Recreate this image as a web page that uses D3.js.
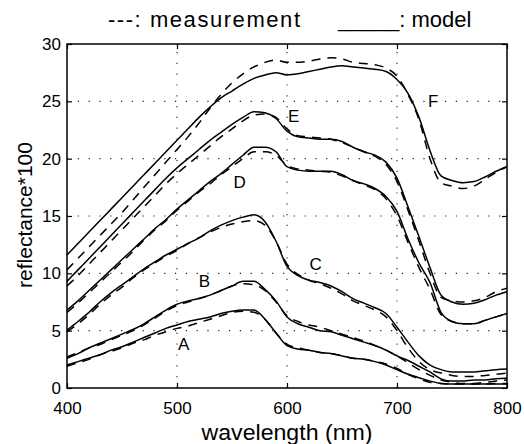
<!DOCTYPE html>
<html><head><meta charset="utf-8">
<script src="https://cdn.jsdelivr.net/npm/d3@7"></script>
<style>body{margin:0;background:#fff}svg{display:block;font-family:"Liberation Sans",Arial,Helvetica,sans-serif}</style>
</head><body><svg id="c" width="524" height="444"></svg>
<script>
const wavelengths = [400,410,420,430,440,450,460,470,480,490,500,510,520,530,540,550,560,570,580,590,600,610,620,630,640,650,660,670,680,690,700,710,720,730,740,750,760,770,780,790,800];

const F_model = [11.6,12.6,13.6,14.6,15.6,16.6,17.6,18.6,19.6,20.6,21.6,22.6,23.6,24.5,25.3,25.9,26.5,27.0,27.3,27.5,27.3,27.4,27.6,27.8,28.0,28.1,28.0,27.9,27.8,27.6,26.9,25.7,23.6,20.7,18.5,18.1,17.9,18.0,18.4,18.9,19.3];
const F_meas  = [10.3,11.3,12.3,13.3,14.3,15.3,16.4,17.5,18.6,19.7,20.8,21.9,23.1,24.4,25.6,26.6,27.4,28.0,28.4,28.6,28.4,28.4,28.5,28.7,28.8,28.7,28.4,28.3,28.2,27.9,27.2,25.6,23.4,20.0,17.9,17.6,17.4,17.6,18.2,18.8,19.3];
const E_model = [9.3,10.3,11.3,12.3,13.3,14.3,15.3,16.3,17.3,18.3,19.2,20.0,20.8,21.6,22.3,23.0,23.6,24.1,24.0,23.5,22.4,21.9,21.8,21.7,21.7,21.5,21.0,20.6,20.3,19.7,18.3,15.8,13.2,10.5,8.1,7.5,7.3,7.4,7.7,8.1,8.4];
const E_meas  = [8.9,9.8,10.8,11.8,12.8,13.8,14.8,15.8,16.8,17.8,18.7,19.5,20.3,21.1,21.9,22.6,23.3,23.8,23.9,23.6,22.6,22.0,21.9,21.8,21.7,21.4,21.0,20.6,20.2,19.5,18.0,15.5,12.8,10.0,7.9,7.6,7.5,7.6,7.9,8.4,8.7];
const D_model = [6.8,7.6,8.5,9.4,10.3,11.2,12.1,13.0,13.9,14.7,15.6,16.4,17.2,18.0,18.7,19.5,20.3,21.0,21.0,20.6,19.3,19.0,18.9,18.9,18.9,18.6,18.1,17.8,17.4,16.7,15.4,13.0,10.9,9.2,6.6,5.8,5.6,5.6,5.9,6.2,6.5];
const D_meas  = [6.6,7.4,8.3,9.2,10.1,11.0,11.9,12.9,13.8,14.6,15.5,16.3,17.1,17.8,18.6,19.3,20.0,20.6,20.6,20.3,19.4,19.1,19.0,18.9,18.8,18.5,18.1,17.7,17.3,16.5,15.0,12.7,10.5,8.6,6.4,5.8,5.6,5.6,5.9,6.2,6.5];
const C_model = [5.05,5.8,6.6,7.5,8.3,9.0,9.7,10.4,11.0,11.6,12.1,12.6,13.1,13.7,14.2,14.6,14.9,15.1,14.5,12.8,10.6,9.8,9.4,9.2,8.9,8.4,7.8,7.4,7.0,6.5,5.3,4.0,2.8,2.0,1.6,1.4,1.4,1.4,1.5,1.6,1.65];
const C_meas  = [4.9,5.6,6.4,7.3,8.1,8.8,9.6,10.3,10.9,11.5,12.0,12.6,13.1,13.6,14.0,14.3,14.5,14.6,14.2,12.8,10.8,9.9,9.4,9.1,8.7,8.2,7.6,7.2,6.8,6.2,5.0,3.5,2.3,1.6,1.3,1.1,1.0,1.0,1.1,1.2,1.3];
const B_model = [2.6,3.0,3.5,3.9,4.3,4.7,5.1,5.6,6.2,6.8,7.3,7.6,7.8,8.1,8.5,8.9,9.3,9.3,8.6,7.6,6.2,5.6,5.3,5.0,4.9,4.6,4.3,4.0,3.7,3.3,2.8,2.4,1.9,1.4,0.8,0.6,0.6,0.7,0.7,0.8,0.85];
const B_meas  = [2.7,3.1,3.5,3.8,4.2,4.6,5.0,5.5,6.1,6.7,7.2,7.5,7.8,8.1,8.5,8.9,9.1,9.0,8.5,7.5,6.3,5.8,5.5,5.3,5.0,4.7,4.4,4.1,3.7,3.3,2.8,2.2,1.6,1.1,0.7,0.5,0.4,0.4,0.5,0.6,0.7];
const A_model = [2.0,2.3,2.6,2.9,3.3,3.6,4.0,4.4,4.8,5.2,5.5,5.8,6.0,6.2,6.5,6.7,6.8,6.8,6.0,4.8,3.7,3.4,3.3,3.1,3.0,2.8,2.6,2.5,2.3,2.0,1.6,1.2,0.9,0.6,0.4,0.35,0.35,0.35,0.35,0.35,0.35];
const A_meas  = [1.9,2.2,2.5,2.9,3.2,3.5,3.9,4.2,4.6,4.9,5.2,5.4,5.7,6.0,6.3,6.6,6.7,6.6,6.0,4.8,3.8,3.5,3.3,3.1,3.0,2.8,2.6,2.5,2.3,2.1,1.7,1.2,0.8,0.5,0.4,0.35,0.35,0.35,0.35,0.4,0.4];

const modelSeries = [A_model, B_model, C_model, D_model, E_model, F_model];
const measSeries  = [A_meas, B_meas, C_meas, D_meas, E_meas, F_meas];

const xTicks = [400, 500, 600, 700, 800];
const yTicks = [0, 5, 10, 15, 20, 25, 30];
const curveLabels = ["A", "B", "C", "D", "E", "F"];
const labelWavelength = [506, 525, 626, 557, 606, 733];
const labelReflectance = [3.3, 8.8, 10.3, 17.4, 23.2, 24.5];

const xLabel = "wavelength (nm)";
const yLabel = "reflectance*100";
const legendMeasurement = "---: measurement";
const legendModel = "_____: model";

const svg = d3.select("#c");
const L = 67, R = 507, T = 44, B = 388;
const x = d3.scaleLinear().domain([400, 800]).range([L, R]);
const y = d3.scaleLinear().domain([0, 30]).range([B, T]);

// grid
const grid = svg.append("g").attr("stroke", "#222").attr("stroke-width", 1.1).attr("stroke-dasharray", "1.2,9.6");
xTicks.slice(1, -1).forEach(t => grid.append("line").attr("x1", x(t)).attr("x2", x(t)).attr("y1", B).attr("y2", T));
yTicks.slice(1, -1).forEach(t => grid.append("line").attr("y1", y(t)).attr("y2", y(t)).attr("x1", L).attr("x2", R));

// axes
const ax = svg.append("g").attr("transform", `translate(0,${B})`)
  .call(d3.axisBottom(x).tickValues(xTicks).tickFormat(d3.format("d")).tickSizeInner(-5).tickSizeOuter(0).tickPadding(10));
const axT = svg.append("g").attr("transform", `translate(0,${T})`)
  .call(d3.axisTop(x).tickValues(xTicks).tickFormat("").tickSizeInner(-5).tickSizeOuter(0));
const ay = svg.append("g").attr("transform", `translate(${L},0)`)
  .call(d3.axisLeft(y).tickValues(yTicks).tickFormat(d3.format("d")).tickSizeInner(-5).tickSizeOuter(0).tickPadding(10));
const ayR = svg.append("g").attr("transform", `translate(${R},0)`)
  .call(d3.axisRight(y).tickValues(yTicks).tickFormat("").tickSizeInner(-5).tickSizeOuter(0));
[ax, axT, ay, ayR].forEach(g => {
  g.select(".domain").remove();
  g.selectAll("line").attr("stroke", "#000").attr("stroke-width", 1.2);
  g.selectAll("text").attr("font-size", 17).attr("fill", "#000").attr("font-family", '"Liberation Sans",Arial,sans-serif');
});
ax.selectAll("text").attr("dy", null).attr("y", 26);
ay.selectAll("text").attr("x", -6);

svg.append("rect").attr("x", L).attr("y", T).attr("width", R - L).attr("height", B - T)
  .attr("fill", "none").attr("stroke", "#000").attr("stroke-width", 1.5);

// curves
const line = d3.line().x((d, i) => x(wavelengths[i])).y(d => y(d)).curve(d3.curveMonotoneX);
svg.append("g").selectAll("path.model").data(modelSeries).join("path")
  .attr("class", "model").attr("d", line).attr("fill", "none").attr("stroke", "#000").attr("stroke-width", 1.5);
svg.append("g").selectAll("path.meas").data(measSeries).join("path")
  .attr("class", "meas").attr("d", line).attr("fill", "none").attr("stroke", "#000").attr("stroke-width", 1.5)
  .attr("stroke-dasharray", "9,7");

// curve letters
svg.append("g").selectAll("text").data(curveLabels).join("text")
  .attr("x", (d, i) => x(labelWavelength[i])).attr("y", (d, i) => y(labelReflectance[i]))
  .attr("text-anchor", "middle").attr("font-size", 17).text(d => d);

// axis labels
svg.append("text").attr("x", (L + R) / 2).attr("y", 440).attr("text-anchor", "middle")
  .attr("font-size", 22).attr("textLength", 171).attr("lengthAdjust", "spacingAndGlyphs").text(xLabel);
svg.append("text").attr("transform", "translate(32,215) rotate(-90)").attr("text-anchor", "middle")
  .attr("font-size", 21).text(yLabel);

// legend header
const lg = svg.append("g").attr("font-size", 22);
lg.append("text").attr("x", 108).attr("y", 27).attr("textLength", 192).attr("lengthAdjust", "spacing").text(legendMeasurement);
lg.append("text").attr("x", 338).attr("y", 27).text(legendModel);
</script></body></html>
